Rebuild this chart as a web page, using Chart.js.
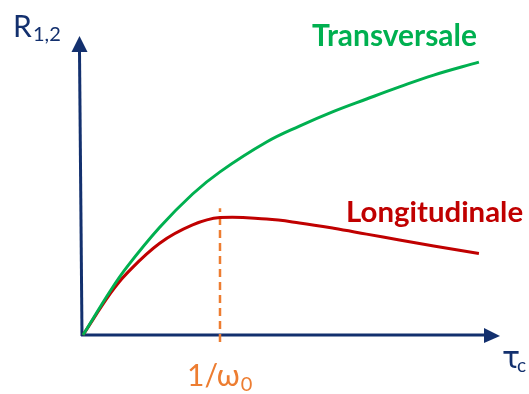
<!DOCTYPE html>
<html>
<head>
<meta charset="utf-8">
<script src="https://cdn.jsdelivr.net/npm/chart.js@4/dist/chart.umd.min.js"></script>
<style>
  html, body { margin: 0; padding: 0; background: #fff; }
  #wrap { width: 529px; height: 394px; position: relative; }
</style>
</head>
<body>
<div id="wrap"><canvas id="relaxChart"></canvas></div>
<script>
// tau_c in units of 1/omega_0, R in arbitrary units
const tauValues = [0, 0.2, 0.32, 0.56, 0.8, 1.0, 1.34, 1.58, 1.83, 2.07, 2.31, 2.56, 2.89];
const transversale = [0, 1.5, 2.3, 3.65, 4.78, 5.53, 6.54, 7.08, 7.58, 8.0, 8.41, 8.81, 9.25];
const longitudinale = [0, 1.41, 2.09, 3.11, 3.73, 3.98, 3.93, 3.80, 3.62, 3.42, 3.22, 3.02, 2.76];
const markerTau = 1;            // 1/omega_0
const markerRange = [-0.24, 4.3];

const NAVY = '#13306e';
const GREEN = '#00b050';
const RED = '#c00000';
const ORANGE = '#ed7d31';

const toPoints = (ys) => ys.map((y, i) => ({ x: tauValues[i], y: y }));

// axes, arrows and labels drawn by hand like the slide
const slideAxes = {
    id: 'slideAxes',
    beforeDatasetsDraw(chart) {
        const { ctx, chartArea: a } = chart;
        ctx.save();
        ctx.strokeStyle = NAVY;
        ctx.fillStyle = NAVY;
        ctx.lineWidth = 3;
        // y axis (slightly slanted as in the drawing)
        ctx.beginPath();
        ctx.moveTo(a.left - 1, a.bottom + 1);
        ctx.lineTo(a.left - 3.5, a.top + 12);
        ctx.stroke();
        ctx.beginPath();
        ctx.moveTo(a.left - 3.5, a.top - 4);
        ctx.lineTo(a.left - 11.5, a.top + 12);
        ctx.lineTo(a.left + 4.5, a.top + 12);
        ctx.closePath();
        ctx.fill();
        // x axis
        ctx.beginPath();
        ctx.moveTo(a.left - 2, a.bottom);
        ctx.lineTo(a.right - 12, a.bottom);
        ctx.stroke();
        ctx.beginPath();
        ctx.moveTo(a.right + 3, a.bottom + 1);
        ctx.lineTo(a.right - 13, a.bottom - 7);
        ctx.lineTo(a.right - 13, a.bottom + 8);
        ctx.closePath();
        ctx.fill();
        ctx.restore();
    },
    afterDraw(chart) {
        const { ctx } = chart;
        ctx.save();
        ctx.textBaseline = 'alphabetic';
        ctx.textAlign = 'left';

        const fitText = (txt, x, y, width, size, weight, color) => {
            ctx.font = weight + ' ' + size + 'px Lato';
            const w = ctx.measureText(txt).width;
            const s = Math.min(size * 1.25, size * width / w);
            ctx.font = weight + ' ' + s.toFixed(1) + 'px Lato';
            ctx.fillStyle = color;
            ctx.fillText(txt, x, y);
        };

        fitText('Transversale', 312, 46, 165, 26, 'bold', GREEN);
        fitText('Longitudinale', 346, 222, 177, 26, 'bold', RED);

        // R_{1,2}
        ctx.fillStyle = NAVY;
        ctx.font = '30px Lato';
        ctx.fillText('R', 13, 37);
        ctx.font = '20px Lato';
        ctx.fillText('1,2', 33, 41);

        // tau_c
        ctx.font = '30px "DejaVu Sans"';
        ctx.fillText('τ', 502, 368);
        ctx.font = '19px Lato';
        ctx.fillText('c', 517, 372);

        // 1/omega_0
        ctx.fillStyle = ORANGE;
        ctx.font = '30px Lato';
        ctx.fillText('1/ω', 187, 386);
        const w = ctx.measureText('1/ω').width;
        ctx.font = '20px Lato';
        ctx.fillText('0', 187 + w + 1, 391);
        ctx.restore();
    }
};

new Chart(document.getElementById('relaxChart'), {
    type: 'line',
    data: {
        datasets: [
            {
                label: 'Transversale',
                data: toPoints(transversale),
                borderColor: GREEN,
                borderWidth: 3,
                pointRadius: 0,
                tension: 0.4,
                clip: false
            },
            {
                label: 'Longitudinale',
                data: toPoints(longitudinale),
                borderColor: RED,
                borderWidth: 3,
                pointRadius: 0,
                tension: 0.4,
                clip: false
            },
            {
                label: '1/ω0',
                data: markerRange.map(y => ({ x: markerTau, y: y })),
                borderColor: ORANGE,
                borderWidth: 2.5,
                borderDash: [8, 5],
                pointRadius: 0,
                clip: false
            }
        ]
    },
    options: {
        responsive: true,
        maintainAspectRatio: false,
        animation: false,
        layout: { padding: { left: 83, right: 32, top: 40, bottom: 59 } },
        scales: {
            x: { type: 'linear', min: 0, max: 3.022, display: false },
            y: { min: 0, max: 10, display: false }
        },
        plugins: {
            legend: { display: false },
            tooltip: { enabled: false }
        }
    },
    plugins: [slideAxes]
});
</script>
</body>
</html>
